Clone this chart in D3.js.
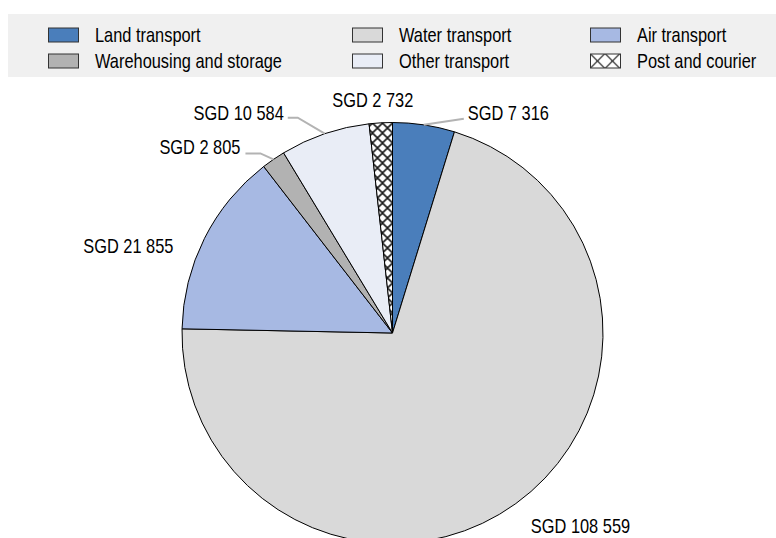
<!DOCTYPE html>
<html>
<head>
<meta charset="utf-8">
<script src="https://cdn.jsdelivr.net/npm/d3@7"></script>
<style>
  html, body { margin: 0; padding: 0; background: #ffffff; }
  svg { display: block; }
  text { font-family: "Liberation Sans", Arial, sans-serif; font-size: 20px; fill: #000; }
</style>
</head>
<body>
<svg id="chart" width="776" height="538"></svg>
<script>
// Transport value added, SGD million
const categories = ["Land transport", "Water transport", "Air transport",
                    "Warehousing and storage", "Other transport", "Post and courier"];
const values = [7316, 108559, 21855, 2805, 10584, 2732];
const valueLabels = ["SGD 7 316", "SGD 108 559", "SGD 21 855", "SGD 2 805", "SGD 10 584", "SGD 2 732"];
const colors = ["#4a7ebb", "#d9d9d9", "#a7b9e3", "#b2b2b2", "#e9edf6", "url(#crosshatch)"];

const svg = d3.select("#chart");
const W = 776, H = 538;
const NARROW = 0.82; // horizontal squeeze for a condensed look

// writes a condensed text at (x, y)
function narrowText(parent, x, y, str, anchor) {
  return parent.append("text")
    .attr("transform", `translate(${x},${y}) scale(${NARROW},1)`)
    .attr("dy", "0.35em")
    .attr("text-anchor", anchor || "start")
    .text(str);
}

// cross-hatch fills for the post and courier slice and its legend key
const defs = svg.append("defs");
function hatch(id, size, width) {
  const pat = defs.append("pattern")
    .attr("id", id)
    .attr("patternUnits", "userSpaceOnUse")
    .attr("width", size).attr("height", size);
  pat.append("rect").attr("width", size).attr("height", size).attr("fill", "#ffffff");
  pat.append("path").attr("d", `M0,0L${size},${size}M${size},0L0,${size}`)
    .attr("stroke", "#1a1a1a").attr("stroke-width", width);
}
hatch("crosshatch", 10, 1.6);
hatch("crosshatch-key", 15, 1.2);

// legend band: three columns, two rows
const legend = svg.append("g");
legend.append("rect")
  .attr("x", 8).attr("y", 14).attr("width", W - 8).attr("height", 63)
  .attr("fill", "#f0f0f0");

const colX = [48, 352, 590];
const rowY = [27.5, 53.5];
categories.forEach((name, i) => {
  const col = i % 3, row = Math.floor(i / 3);
  const g = legend.append("g").attr("transform", `translate(${colX[col]},${rowY[row]})`);
  g.append("rect")
    .attr("x", 0.5).attr("y", 0.5).attr("width", 30).attr("height", 14)
    .attr("fill", i === 5 ? "url(#crosshatch-key)" : colors[i])
    .attr("stroke", "#333").attr("stroke-width", 1);
  narrowText(g, 47, 7.5, name);
});

// pie
const cx = 392.5, cy = 333, r = 210.5;
const pie = d3.pie().sort(null).value(d => d)(values);
const arc = d3.arc().innerRadius(0).outerRadius(r);
const rim = d3.arc().innerRadius(r).outerRadius(r);

const g = svg.append("g").attr("transform", `translate(${cx},${cy})`);
g.selectAll("path.slice")
  .data(pie)
  .join("path")
  .attr("class", "slice")
  .attr("d", arc)
  .attr("fill", (d, i) => colors[i])
  .attr("stroke", "#000")
  .attr("stroke-width", 1)
  .attr("stroke-linejoin", "round");

// label placement relative to each slice's rim midpoint
const labelLayout = [
  { dx: 44, dy: -12, anchor: "start", leader: [[40, -6]] },
  { dx: 15, dy: 22, anchor: "start", leader: null },
  { dx: -31, dy: 8, anchor: "end", leader: null },
  { dx: -33, dy: -12, anchor: "end", leader: [[-13, -6], [-28, -6]] },
  { dx: -41, dy: -21, anchor: "end", leader: [[-27, -16], [-37, -16]] },
  { dx: -8, dy: -23, anchor: "middle", leader: null }
];

pie.forEach((d, i) => {
  const [px, py] = rim.centroid(d);
  const L = labelLayout[i];
  if (L.leader) {
    const pts = [[px, py]].concat(L.leader.map(p => [px + p[0], py + p[1]]));
    g.append("path")
      .attr("d", d3.line()(pts))
      .attr("fill", "none")
      .attr("stroke", "#b3b3b3")
      .attr("stroke-width", 2);
  }
  narrowText(g, px + L.dx, py + L.dy, valueLabels[i], L.anchor);
});
</script>
</body>
</html>
